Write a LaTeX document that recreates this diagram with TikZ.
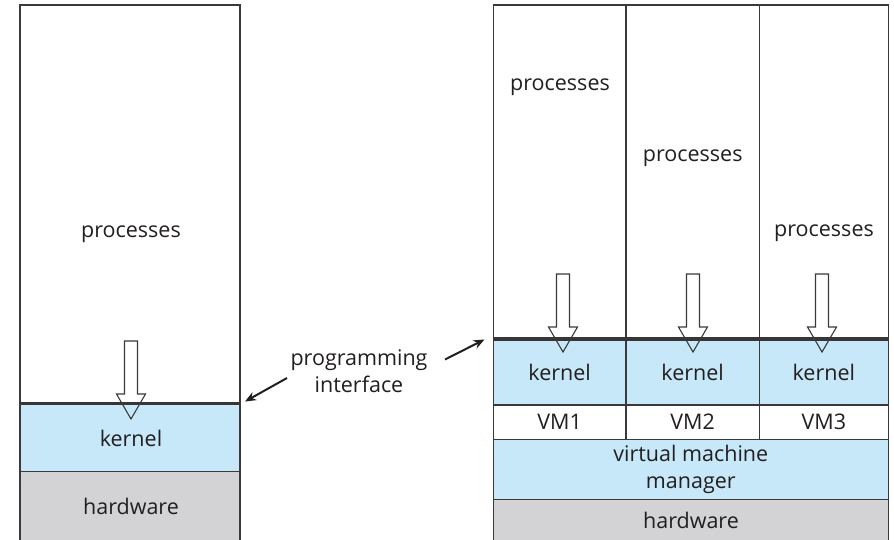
\documentclass[tikz,border=0pt]{standalone}
\usepackage{fontspec}
\setmainfont{Open Sans}
\usetikzlibrary{arrows.meta}
\definecolor{kblue}{HTML}{C7E8F8}
\definecolor{hgray}{HTML}{D3D3D5}
\definecolor{ink}{HTML}{231F20}
\definecolor{edge}{HTML}{3A3A3C}
\tikzset{
  lay/.style={draw=edge, line width=1.2pt, inner sep=0pt, outer sep=0pt, anchor=north west},
  lbl/.style={text=ink, font=\fontsize{21.5}{27}\selectfont, inner sep=0pt, align=center},
  blockarrow/.style={draw=edge, line width=1.1pt, line join=miter},
  pointer/.style={draw=ink, line width=2pt, -{Stealth[length=11pt,width=9pt]}},
  thickline/.style={draw=ink!90, line width=3.2pt}
}
\begin{document}
\begin{tikzpicture}[x=1pt,y=-1pt]
\useasboundingbox (0,0) rectangle (894,539);
\clip (0,0) rectangle (894,539);
\fill[white] (0,0) rectangle (894,539);
% ---------- left machine ----------
\node[lay, minimum width=220pt, minimum height=398.5pt] (lproc) at (20,5) {};
\node[lay, fill=kblue, minimum width=220pt, minimum height=68.2pt] (lkern) at (20,403.5) {};
\node[lay, fill=hgray, minimum width=220pt, minimum height=75pt] (lhw) at (20,471.7) {};
\draw[thickline] (lkern.north west) -- (lkern.north east);
\node[lbl] (lproctext) at (131,234) {processes};
\node[lbl] (lkerntext) at (131,438) {kernel};
\node[lbl] (lhwtext) at (131,506) {hardware};
\draw[blockarrow] (124.5,341) -- (137.5,341) -- (137.5,394) -- (145.5,394) -- (131,419) -- (116.5,394) -- (124.5,394) -- cycle;
% ---------- right machine ----------
\foreach \i/\xa/\w/\cx in {1/493.3/132.7/559.7, 2/626/133.3/692.7, 3/759.3/129/823.8}{
  \node[lay, minimum width=\w pt, minimum height=334pt] (rproc\i) at (\xa,5) {};
  \node[lay, fill=kblue, minimum width=\w pt, minimum height=66pt] (rkern\i) at (\xa,339) {};
  \node[lay, minimum width=\w pt, minimum height=34.3pt] (vm\i) at (\xa,405) {};
  \node[lbl] (rkerntext\i) at (rkern\i.center) {kernel};
  \node[lbl] (vmtext\i) at (vm\i.center) {VM\i};
}
\node[lay, fill=kblue, minimum width=395pt, minimum height=60pt] (vmm) at (493.3,439.3) {};
\node[lay, fill=hgray, minimum width=395pt, minimum height=50pt] (rhw) at (493.3,499.3) {};
\draw[thickline] (rkern1.north west) -- (rkern3.north east);
\node[lbl] (ptext1) at (560,87) {processes};
\node[lbl] (ptext2) at (692.7,158) {processes};
\node[lbl] (ptext3) at (824,233) {processes};
\node[lbl] (vmmtext) at (vmm.center) {virtual machine\\manager};
\node[lbl] (rhwtext) at (691,520) {hardware};
\foreach \c in {563,693,822}{
  \draw[blockarrow] (\c-6.5,274) -- (\c+6.5,274) -- (\c+6.5,327) -- (\c+14.5,327) -- (\c,352) -- (\c-14.5,327) -- (\c-6.5,327) -- cycle;
}
% ---------- programming interface ----------
\node[lbl] (pi) at (359,371) {programming\\interface};
\coordinate (ltail) at (287,378);
\coordinate (ltip) at (245,401.5);
\coordinate (rtail) at (445,359.5);
\coordinate (rtip) at (484.5,339.5);
\draw[pointer] (ltail) -- (ltip);
\draw[pointer] (rtail) -- (rtip);
\end{tikzpicture}
\end{document}
